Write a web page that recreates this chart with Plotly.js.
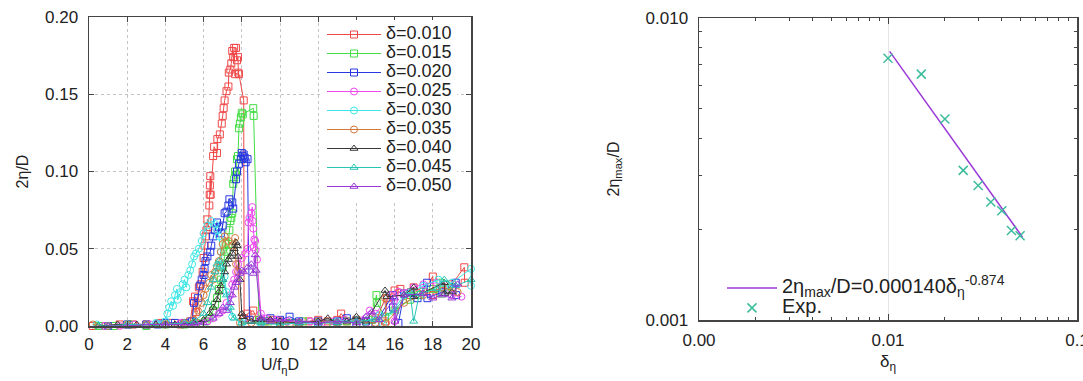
<!DOCTYPE html>
<html>
<head>
<meta charset="utf-8">
<script src="https://cdn.plot.ly/plotly-3.0.1.min.js"></script>
<style>html,body{margin:0;padding:0;background:#fff;}#chart{width:1083px;height:381px;}</style>
</head>
<body>
<div id="chart"></div>
<script>
// ---- Left panel: 2η/D vs U/fηD ----
const seriesNames = ['δ=0.010','δ=0.015','δ=0.020','δ=0.025','δ=0.030','δ=0.035','δ=0.040','δ=0.045','δ=0.050'];

const x010 = [0.2,0.9,1.6,2.3,3.0,3.7,4.3,4.8,5.3,5.45,5.55,5.6,5.75,5.85,5.95,6.0,6.05,6.1,6.15,6.2,6.25,6.3,6.32,6.33,6.35,6.37,6.5,6.55,6.7,6.72,6.85,6.95,7.0,7.05,7.1,7.2,7.3,7.32,7.4,7.45,7.5,7.55,7.6,7.7,7.75,7.8,7.82,7.65,7.85,8.1,8.12,8.3,8.6,8.8,9.2,9.6,10.0,10.5,11.0,11.5,12.0,12.5,13.0,13.2,13.5,14.0,14.5,15.0,15.5,15.6,16.0,16.3,16.8,17.0,17.5,18.0,18.02,18.5,19.0,19.65,19.67];
const y010 = [0.000,0.000,0.001,0.001,0.001,0.002,0.002,0.001,0.003,0.016,0.019,0.009,0.025,0.027,0.035,0.044,0.052,0.058,0.062,0.069,0.064,0.078,0.085,0.091,0.097,0.085,0.110,0.116,0.112,0.121,0.124,0.131,0.136,0.141,0.146,0.152,0.155,0.164,0.166,0.170,0.178,0.174,0.180,0.180,0.172,0.174,0.164,0.163,0.163,0.146,0.005,0.008,0.010,0.004,0.003,0.004,0.003,0.002,0.002,0.003,0.004,0.003,0.004,0.008,0.003,0.004,0.003,0.005,0.003,0.018,0.023,0.024,0.020,0.025,0.022,0.032,0.020,0.025,0.027,0.038,0.028];

const x015 = [0.5,1.3,2.1,3.0,4.0,5.0,5.6,6.1,6.3,6.5,6.6,6.7,6.8,6.9,7.0,7.1,7.15,7.2,7.3,7.35,7.4,7.45,7.5,7.55,7.6,7.65,7.7,7.75,7.8,7.85,7.9,7.95,8.0,8.05,8.6,8.62,8.9,9.4,10.0,10.6,11.2,12.0,12.8,13.5,14.2,14.8,15.05,15.07,15.5,16.0,16.8,16.85,17.3,18.0,18.4,18.45,19.0];
const y015 = [0.000,0.000,0.001,0.000,0.001,0.001,0.002,0.003,0.005,0.010,0.014,0.018,0.024,0.030,0.038,0.045,0.054,0.048,0.053,0.062,0.068,0.070,0.073,0.092,0.095,0.100,0.098,0.108,0.110,0.128,0.131,0.135,0.138,0.137,0.141,0.136,0.004,0.003,0.002,0.002,0.003,0.002,0.002,0.003,0.002,0.004,0.020,0.015,0.006,0.010,0.017,0.022,0.020,0.024,0.028,0.021,0.025];

const x020 = [1.0,2.0,3.0,3.6,4.0,4.5,5.0,5.4,5.5,5.7,5.8,5.9,6.0,6.05,6.1,6.2,6.35,6.4,6.5,6.6,6.7,6.8,6.9,7.0,7.1,7.2,7.3,7.35,7.5,7.55,7.7,7.75,7.85,7.95,8.0,8.05,8.1,8.15,8.2,8.3,8.4,9.0,9.5,10.0,10.5,11.0,12.0,13.0,13.5,14.0,14.5,15.0,15.9,15.92,16.2,16.5,17.2,17.7,17.72,18.5,19.2,19.22];
const y020 = [0.000,0.001,0.001,0.001,0.002,0.002,0.002,0.003,0.015,0.018,0.026,0.030,0.033,0.037,0.042,0.045,0.048,0.052,0.058,0.062,0.067,0.064,0.060,0.065,0.073,0.074,0.078,0.082,0.080,0.076,0.095,0.100,0.105,0.108,0.112,0.110,0.111,0.109,0.106,0.108,0.004,0.003,0.005,0.004,0.006,0.003,0.003,0.003,0.005,0.002,0.003,0.002,0.020,0.012,0.002,0.021,0.018,0.028,0.018,0.022,0.028,0.020];

const x025 = [0.8,1.6,2.4,3.2,4.0,4.8,5.6,6.2,6.5,6.8,7.0,7.2,7.4,7.5,7.6,7.7,7.8,8.0,8.2,8.3,8.35,8.4,8.5,8.55,8.57,8.6,8.65,8.62,8.7,8.72,8.8,9.0,9.3,9.8,10.4,11.0,11.6,12.2,12.8,13.4,14.0,14.7,15.0,15.8,16.0,16.2,17.0,17.5,18.2,18.5,19.0,19.5];
const y025 = [0.000,0.000,0.001,0.001,0.001,0.002,0.002,0.003,0.005,0.008,0.010,0.015,0.020,0.027,0.030,0.035,0.040,0.044,0.047,0.050,0.067,0.070,0.073,0.077,0.068,0.063,0.056,0.051,0.055,0.049,0.043,0.008,0.005,0.004,0.003,0.002,0.003,0.002,0.003,0.004,0.003,0.010,0.008,0.020,0.003,0.022,0.025,0.027,0.028,0.026,0.020,0.019];

const x030 = [0.4,1.0,2.0,3.0,3.5,4.0,4.1,4.2,4.3,4.4,4.5,4.6,4.65,4.8,4.9,5.0,5.1,5.2,5.3,5.4,5.5,5.6,5.75,5.9,6.0,6.2,6.4,6.6,6.7,6.8,6.9,7.0,7.1,7.2,7.3,7.5,8.0,9.0,10.0,11.0,12.0,13.0,14.0,14.5,15.2,15.4,16.5,17.5,18.3,18.6,19.0,20.0,20.0];
const y030 = [0.001,0.000,0.001,0.001,0.002,0.003,0.008,0.012,0.016,0.013,0.020,0.024,0.017,0.022,0.027,0.030,0.025,0.033,0.036,0.040,0.045,0.047,0.050,0.055,0.060,0.065,0.068,0.066,0.062,0.058,0.048,0.040,0.032,0.022,0.012,0.006,0.002,0.002,0.001,0.002,0.002,0.003,0.004,0.003,0.007,0.001,0.020,0.026,0.030,0.025,0.028,0.037,0.026];

const x035 = [0.2,1.0,2.0,3.0,4.0,5.0,5.5,5.7,5.9,6.0,6.1,6.3,6.4,6.5,6.6,6.7,6.8,6.9,7.0,7.1,7.3,7.5,7.65,7.7,7.8,7.9,8.5,9.0,10.0,11.0,12.0,13.0,14.0,15.0,15.5,15.55,16.5,17.5,18.5,19.3];
const y035 = [0.001,0.000,0.001,0.001,0.001,0.002,0.004,0.010,0.015,0.020,0.024,0.028,0.033,0.030,0.035,0.038,0.042,0.048,0.053,0.058,0.055,0.052,0.057,0.040,0.035,0.002,0.002,0.003,0.002,0.002,0.003,0.002,0.003,0.002,0.018,0.002,0.015,0.020,0.025,0.022];

const x040 = [0.5,1.5,2.5,3.5,4.5,5.5,6.0,6.3,6.5,6.7,6.8,6.9,7.0,7.1,7.2,7.3,7.4,7.5,7.6,7.7,7.75,7.8,7.9,8.0,8.05,8.5,9.0,9.5,10.0,11.0,12.0,12.5,13.0,13.5,14.0,14.5,15.5,15.6,16.5,17.0,17.02,18.6,18.62,19.0];
const y040 = [0.000,0.001,0.001,0.001,0.001,0.002,0.004,0.008,0.012,0.017,0.022,0.026,0.030,0.035,0.040,0.043,0.045,0.047,0.050,0.054,0.052,0.045,0.030,0.008,0.006,0.003,0.004,0.004,0.003,0.002,0.003,0.005,0.002,0.003,0.006,0.003,0.023,0.019,0.020,0.025,0.019,0.028,0.021,0.022];

const x045 = [0.5,1.0,2.0,3.0,4.0,5.0,5.5,6.0,6.2,6.4,6.5,6.6,6.7,6.8,6.9,7.0,7.2,7.4,7.6,8.0,9.0,10.0,11.0,12.0,13.0,14.0,15.0,16.0,16.8,17.0,17.3,18.2,18.6,19.2,20.0];
const y045 = [0.000,0.000,0.001,0.001,0.001,0.002,0.003,0.008,0.015,0.025,0.030,0.035,0.040,0.042,0.038,0.030,0.020,0.012,0.005,0.002,0.002,0.001,0.002,0.002,0.002,0.003,0.004,0.010,0.022,0.003,0.021,0.024,0.030,0.026,0.030];

const x050 = [1.0,2.0,3.0,4.0,5.0,5.5,6.0,6.5,6.8,7.0,7.2,7.4,7.5,7.6,7.7,7.8,7.9,8.0,8.1,8.3,8.5,8.6,8.7,8.75,9.0,9.5,10.0,11.0,12.0,13.0,14.0,14.5,14.8,15.2,16.0,16.02,16.5,17.5,18.0,18.5,19.0,19.3];
const y050 = [0.000,0.000,0.001,0.001,0.001,0.001,0.002,0.005,0.008,0.012,0.010,0.015,0.020,0.025,0.028,0.030,0.034,0.036,0.035,0.038,0.040,0.034,0.046,0.036,0.005,0.003,0.004,0.003,0.002,0.003,0.002,0.006,0.009,0.004,0.018,0.003,0.020,0.021,0.018,0.020,0.018,0.027];

const leftX = [x010,x015,x020,x025,x030,x035,x040,x045,x050];
const leftY = [y010,y015,y020,y025,y030,y035,y040,y045,y050];

// ---- Right panel: 2ηmax/D vs δη ----
const expDelta = [0.010,0.015,0.020,0.025,0.030,0.035,0.040,0.045,0.050];
const expEta   = [0.00736,0.00652,0.00463,0.00313,0.00279,0.00246,0.00230,0.00198,0.00190];
const fitDelta = [0.0102,0.0515];
const fitEta   = [0.00775,0.00188];
const fitLabel = '2η<sub>max</sub>/D=0.000140δ<sub>η</sub><sup>-0.874</sup>';
const expLabel = 'Exp.';

const xTickVals = [0,2,4,6,8,10,12,14,16,18,20];
const yTickVals = [0,0.05,0.10,0.15,0.20];
const x2TickVals = [0.001,0.01,0.1];
const x2TickText = ['0.00','0.01','0.1'];
const y2TickVals = [0.001,0.01];
const y2TickText = ['0.001','0.010'];

const colors = ['#f04848','#44dd44','#2838e0','#ee48ee','#40e6e6','#d2783c','#383838','#28c4b4','#9838d8'];
const symbols = ['square-open','square-open','square-open','circle-open','circle-open','circle-open','triangle-up-open','triangle-up-open','triangle-up-open'];

const FONT = 'Liberation Sans, Arial, Helvetica, sans-serif';
const big = (s, px) => '<span style="font-size:' + px + 'px">' + s + '</span>';
const traces = [];
for (let i = 0; i < seriesNames.length; i++) {
  traces.push({
    x: leftX[i], y: leftY[i], type: 'scatter', mode: 'lines+markers',
    name: big(seriesNames[i], 18), xaxis: 'x', yaxis: 'y', legend: 'legend',
    cliponaxis: false,
    line: {color: colors[i], width: 1},
    marker: {symbol: symbols[i], size: 7, color: colors[i], line: {width: 1, color: colors[i]}}
  });
}
traces.push({
  x: fitDelta, y: fitEta, type: 'scatter', mode: 'lines',
  name: big(fitLabel, 20),
  xaxis: 'x2', yaxis: 'y2', legend: 'legend2',
  line: {color: '#9a3ad8', width: 1.5}
});
traces.push({
  x: expDelta, y: expEta, type: 'scatter', mode: 'markers',
  name: big(expLabel, 20), xaxis: 'x2', yaxis: 'y2', legend: 'legend2',
  marker: {symbol: 'x-thin-open', size: 9, color: '#3cbc9c', line: {width: 1.5, color: '#3cbc9c'}}
});

const axisCommon = {
  showline: true, linecolor: '#444', linewidth: 1.5, mirror: 'ticks',
  ticks: 'inside', tickcolor: '#444', ticklen: 5, tickwidth: 1,
  zeroline: false, tickfont: {family: FONT, size: 17, color: '#222'}
};
const minorX2 = [0.002,0.003,0.004,0.005,0.006,0.007,0.008,0.009,0.02,0.03,0.04,0.05,0.06,0.07,0.08,0.09];
const minorY2 = [0.002,0.003,0.004,0.005,0.006,0.007,0.008,0.009];

const layout = {
  width: 1083, height: 381,
  margin: {l: 0, r: 0, t: 0, b: 0},
  paper_bgcolor: '#fff', plot_bgcolor: '#fff',
  font: {family: FONT, color: '#222'},
  showlegend: true,
  xaxis: Object.assign({}, axisCommon, {
    domain: [89/1083, 471/1083], range: [0, 20], anchor: 'y',
    tickmode: 'array', tickvals: xTickVals, ticklabelstandoff: 2,
    showgrid: true, gridcolor: '#c4c4c4', griddash: 'dot', gridwidth: 1,
    title: {text: 'U/f<sub>η</sub>D', font: {family: FONT, size: 16, color: '#222'}, standoff: 6}
  }),
  yaxis: Object.assign({}, axisCommon, {
    domain: [1 - 326/381, 1 - 17/381], range: [0, 0.2], anchor: 'x',
    tickmode: 'array', tickvals: yTickVals, tickformat: '.2f', ticklabelstandoff: 6,
    showgrid: true, gridcolor: '#c4c4c4', griddash: 'dot', gridwidth: 1,
    title: {text: '2η/D', font: {family: FONT, size: 16, color: '#222'}, standoff: 12}
  }),
  xaxis2: Object.assign({}, axisCommon, {
    type: 'log', domain: [699/1083, 1077/1083], range: [-3, -1], anchor: 'y2',
    tickmode: 'array', tickvals: x2TickVals, ticktext: x2TickText,
    ticklen: 6, ticklabelstandoff: 4, ticklabeloverflow: 'allow',
    minor: {tickmode: 'array', tickvals: minorX2, ticks: 'inside', ticklen: 3, tickcolor: '#444', showgrid: false},
    showgrid: true, gridcolor: '#e4e4e4', gridwidth: 1,
    title: {text: 'δ<sub>η</sub>', font: {family: FONT, size: 17, color: '#222'}, standoff: 6}
  }),
  yaxis2: Object.assign({}, axisCommon, {
    type: 'log', domain: [1 - 320/381, 1 - 18/381], range: [-3, -2], anchor: 'x2',
    tickmode: 'array', tickvals: y2TickVals, ticktext: y2TickText,
    ticklen: 6, ticklabelstandoff: 6,
    minor: {tickmode: 'array', tickvals: minorY2, ticks: 'inside', ticklen: 3, tickcolor: '#444', showgrid: false},
    showgrid: false,
    title: {text: '2η<sub>max</sub>/D', font: {family: FONT, size: 16, color: '#222'}, standoff: 22}
  }),
  legend: {
    x: 322/1083, y: 1 - 20/381, xanchor: 'left', yanchor: 'top',
    bgcolor: '#fff', borderwidth: 0, itemwidth: 54,
    font: {family: FONT, size: 11, color: '#222'}, tracegroupgap: 0
  },
  legend2: {
    x: 722/1083, y: 1 - 273/381, xanchor: 'left', yanchor: 'top',
    bgcolor: 'rgba(255,255,255,0)', borderwidth: 0, itemwidth: 50,
    font: {family: FONT, size: 13, color: '#222'}
  }
};

Plotly.newPlot('chart', traces, layout, {displayModeBar: false, staticPlot: true});
</script>
</body>
</html>
